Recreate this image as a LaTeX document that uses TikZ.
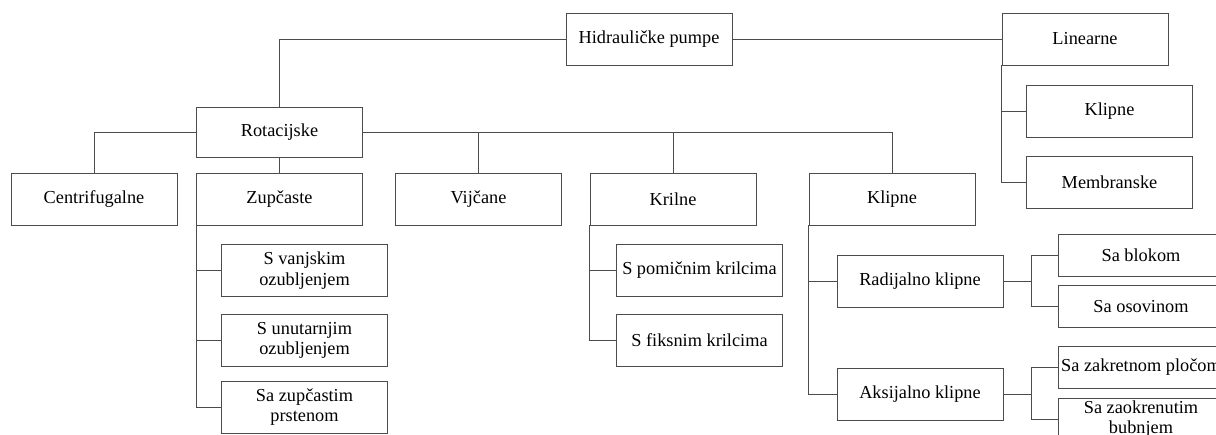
\documentclass[tikz,border=0pt]{standalone}
\usepackage{fontspec}
\setmainfont{Liberation Serif}
\tikzset{
  kutija/.style={draw=black!70, line width=0.9pt, minimum width=166pt, minimum height=52pt,
    inner sep=0pt, align=center, font=\fontsize{18.3}{20.5}\selectfont},
  mala/.style={kutija, minimum height=42pt},
  veza/.style={draw=black!70, line width=0.9pt}
}
\begin{document}
\begin{tikzpicture}[x=1pt,y=-1pt]
    \useasboundingbox (0,0) rectangle (1216,435);
    % 顶层
    \node[kutija] (hp) at (649,39) {Hidrauličke pumpe};
    \node[kutija] (lin) at (1085,39) {Linearne};
    \node[kutija] (lk) at (1109.5,111) {Klipne};
    \node[kutija] (mem) at (1109.5,182) {Membranske};
    \node[kutija, minimum height=50pt] (rot) at (279.5,132) {Rotacijske};

    % 第二层
    \node[kutija] (cen) at (94,199) {Centrifugalne};
    \node[kutija] (zup) at (279.5,199) {Zupčaste};
    \node[kutija] (vij) at (478.5,199) {Vijčane};
    \node[kutija] (kri) at (673,199) {Krilne};
    \node[kutija] (kli) at (892,199) {Klipne};

    % 第三层
    \node[kutija] (sv) at (304.5,270.5) {S vanjskim\\ozubljenjem};
    \node[kutija] (su) at (304.5,340.5) {S unutarnjim\\ozubljenjem};
    \node[kutija] (sz) at (304.5,407) {Sa zupčastim\\prstenom};
    \node[kutija] (sp) at (699.5,270.5) {S pomičnim krilcima};
    \node[kutija] (sf) at (699.5,340.5) {S fiksnim krilcima};
    \node[kutija] (rk) at (920,281) {Radijalno klipne};
    \node[kutija] (ak) at (920,394) {Aksijalno klipne};

    \node[mala] (sb) at (1141,255) {Sa blokom};
    \node[mala] (so) at (1141,306.5) {Sa osovinom};
    \node[mala] (szp) at (1141,367.5) {Sa zakretnom pločom};
    \node[mala] (szb) at (1141,419) {Sa zaokrenutim\\bubnjem};

    \coordinate (rkj) at ([xshift=28pt]rk.east);
    \coordinate (akj) at ([xshift=28pt]ak.east);

    % 连线
    \draw[veza] (hp) -| (rot);
    \draw[veza] (hp) -- (lin);
    \draw[veza] (lin.south west) |- (lk);
    \draw[veza] (lin.south west) |- (mem);

    \draw[veza] (rot) -| (cen);
    \draw[veza] (rot) -- (zup);
    \draw[veza] (rot) -| (vij);
    \draw[veza] (rot) -| (kri);
    \draw[veza] (rot) -| (kli);

    \draw[veza] (zup.south west) |- (sv);
    \draw[veza] (zup.south west) |- (su);
    \draw[veza] (zup.south west) |- (sz);
    \draw[veza] (kri.south west) |- (sp);
    \draw[veza] (kri.south west) |- (sf);
    \draw[veza] (kli.south west) |- (rk);
    \draw[veza] (kli.south west) |- (ak);

    \draw[veza] (rk) -- (rkj) |- (sb);
    \draw[veza] (rkj) |- (so);
    \draw[veza] (ak) -- (akj) |- (szp);
    \draw[veza] (akj) |- (szb);
\end{tikzpicture}
\end{document}
